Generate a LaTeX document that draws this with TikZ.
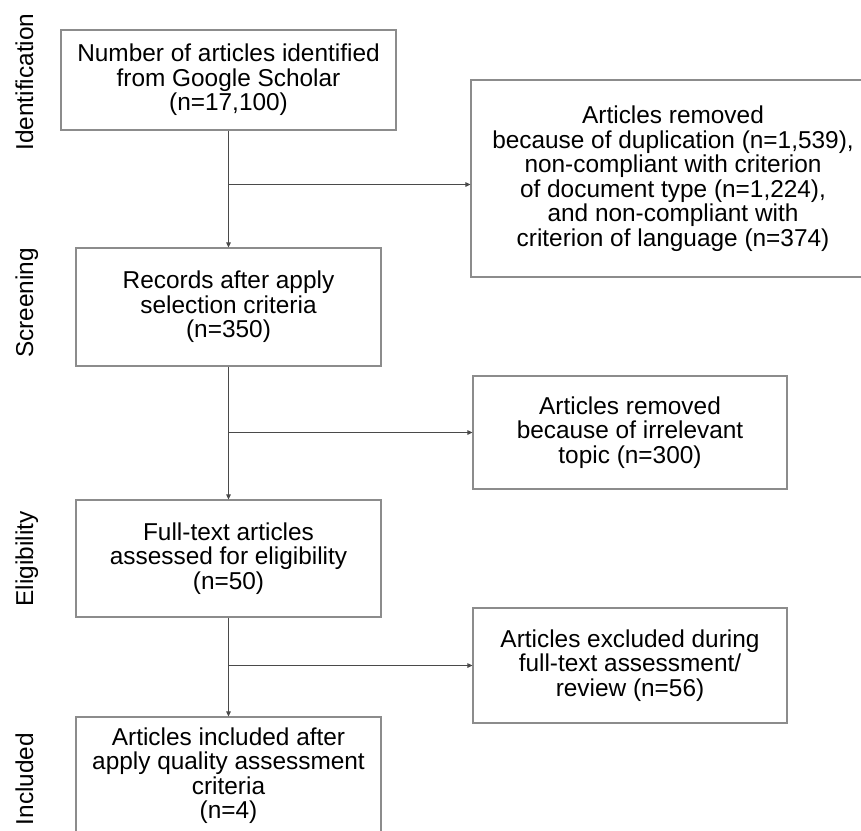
\documentclass[tikz,border=0pt]{standalone}
\usepackage{fontspec}
\setmainfont{Liberation Sans}
\usetikzlibrary{arrows.meta}
\definecolor{boxgray}{HTML}{8C8C8C}
\definecolor{linegray}{HTML}{4A4A4A}
\begin{document}
\begin{tikzpicture}[x=1pt,y=-1pt,
  box/.style={draw=boxgray,line width=1.1pt,align=center,inner sep=0pt,text=black,font=\fontsize{24.4}{24.5}\selectfont},
  phase/.style={rotate=90,anchor=base,inner sep=0pt,font=\fontsize{24.4}{24.5}\selectfont},
  arr/.style={draw=linegray,line width=0.9pt,-{Triangle[length=5pt,width=4.5pt]}}]
\useasboundingbox (0,0) rectangle (861,830);
\fill[white] (0,0) rectangle (861,830);
\clip (0,0) rectangle (861,830);
\node[phase] (lid) at (33,82) {Identification};
\node[phase] (lscr) at (33,303) {Screening};
\node[phase] (lelig) at (33,559) {Eligibility};
\node[phase] (lincl) at (33,779) {Included};
\node[box,minimum width=335pt,minimum height=100pt] (id) at (228.5,80) {Number of articles identified\\from Google Scholar\\(n=17,100)};
\node[box,minimum width=305pt,minimum height=118pt] (scr) at (228.5,307) {Records after apply\\selection criteria\\(n=350)};
\node[box,minimum width=305pt,minimum height=117pt] (elig) at (228.5,558.5) {Full-text articles\\assessed for eligibility\\(n=50)};
\node[box,minimum width=305pt,minimum height=117pt] (incl) at (228.5,775.5) {Articles included after\\apply quality assessment\\criteria\\(n=4)};
\node[box,minimum width=404pt,minimum height=197pt] (rem1) at (673,178.5) {Articles removed\\because of duplication (n=1,539),\\non-compliant with criterion\\of document type (n=1,224),\\and non-compliant with\\criterion of language (n=374)};
\node[box,minimum width=314pt,minimum height=113pt] (rem2) at (630,432.5) {Articles removed\\because of irrelevant\\topic (n=300)};
\node[box,minimum width=314pt,minimum height=115pt] (excl) at (630,665.5) {Articles excluded during\\full-text assessment/\\review (n=56)};
\coordinate (b1) at (228.5,184.5);
\draw[arr] (id.south) -- (scr.north);
\draw[arr] (b1) -- (b1 -| rem1.west);
\draw[arr] (scr.south) -- (elig.north);
\draw[arr] (scr.south |- rem2.west) -- (rem2.west);
\draw[arr] (elig.south) -- (incl.north);
\draw[arr] (elig.south |- excl.west) -- (excl.west);
\end{tikzpicture}
\end{document}
